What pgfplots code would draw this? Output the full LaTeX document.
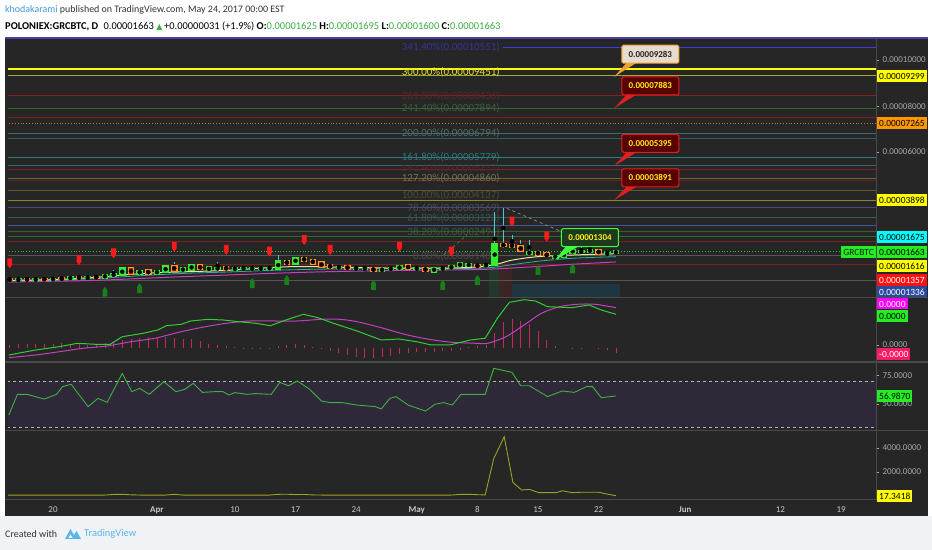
\documentclass[border=0pt]{standalone}
\usepackage{pgfplots}
\usepackage{pgfplotstable}
\pgfplotsset{compat=1.18}
\usepackage{fontspec}
\setmainfont{Carlito}
\newfontfamily\symfont{DejaVu Sans}

\definecolor{bgc}{HTML}{262626}
\definecolor{sepc}{HTML}{4A4A4A}
\definecolor{topc}{HTML}{4B3FA0}
\definecolor{tickc}{HTML}{A8A8A8}
\definecolor{datec}{HTML}{C8C8C8}
\definecolor{footc}{HTML}{F0F3F5}
\definecolor{hdrc}{HTML}{333333}
\definecolor{tvblue}{HTML}{3D9BD6}
\definecolor{tvlogo}{HTML}{5AB5E8}
\definecolor{hdrgreen}{HTML}{3CB043}
\definecolor{upc}{HTML}{2EF02E}
\definecolor{dnout}{HTML}{FF9A20}
\definecolor{dnin}{HTML}{E02020}
\definecolor{callr}{HTML}{E02020}
\definecolor{wickc}{HTML}{5CC4D0}
\definecolor{fracred}{HTML}{FF1A1A}
\definecolor{fracgreen}{HTML}{1A7F1A}
\definecolor{macdc}{HTML}{33CC33}
\definecolor{sigc}{HTML}{C040C0}
\definecolor{histc}{HTML}{C8285A}
\definecolor{rsic}{HTML}{3CB43C}
\definecolor{bandc}{HTML}{2E2839}
\definecolor{volc}{HTML}{A0A020}
\definecolor{ma1}{HTML}{E6E6A0}
\definecolor{ma2}{HTML}{30B0A0}
\definecolor{ma3}{HTML}{C040C0}
% colours named after their hex value
\def\dc#1{\definecolor{HTML#1}{HTML}{#1}}
\dc{1E3A48}\dc{3A3AE0}\dc{FFFF30}\dc{F0F020}\dc{A0A020}\dc{8A2020}\dc{2A6A2A}
\dc{7A2020}\dc{C08020}\dc{3A6A6A}\dc{2A6060}\dc{2A8080}\dc{2A6A6A}\dc{6A6A30}
\dc{6A2020}\dc{5A5A2A}\dc{8A8A2A}\dc{4A4A7A}\dc{3A5A9A}\dc{3A5A3A}\dc{555555}
\dc{30C030}\dc{34349C}\dc{E0E030}\dc{5A2626}\dc{3E5E3E}\dc{4F6E6E}\dc{2F7878}
\dc{552828}\dc{6F6F55}\dc{4C4C32}\dc{4A4A5C}\dc{3A5252}\dc{4A4A4A}\dc{909090}
\dc{707070}\dc{F0A030}\dc{E6DCCD}\dc{222222}\dc{40FF40}\dc{1E3A1E}\dc{B8B8B8}
\dc{FFFF00}\dc{FF9800}\dc{00FFFF}\dc{22EE22}\dc{FF1010}\dc{2A4AA0}\dc{1A1A1A}
\dc{FF00FF}\dc{FF1A66}\dc{3A2424}\dc{A8A830}\dc{22382A}

\pgfdeclareplotmark{dnarr}{%
  \pgfpathmoveto{\pgfqpoint{-2.4bp}{5bp}}%
  \pgfpathlineto{\pgfqpoint{2.4bp}{5bp}}%
  \pgfpathlineto{\pgfqpoint{2.4bp}{-1.5bp}}%
  \pgfpathlineto{\pgfqpoint{0bp}{-5bp}}%
  \pgfpathlineto{\pgfqpoint{-2.4bp}{-1.5bp}}%
  \pgfpathclose\pgfusepathqfill}
\pgfdeclareplotmark{uparr}{%
  \pgfpathmoveto{\pgfqpoint{-2.4bp}{-5bp}}%
  \pgfpathlineto{\pgfqpoint{2.4bp}{-5bp}}%
  \pgfpathlineto{\pgfqpoint{2.4bp}{1.5bp}}%
  \pgfpathlineto{\pgfqpoint{0bp}{5bp}}%
  \pgfpathlineto{\pgfqpoint{-2.4bp}{1.5bp}}%
  \pgfpathclose\pgfusepathqfill}

\pgfplotsset{
  panel/.style={scale only axis, width=868bp, anchor=south west,
    xmin=-5.196, xmax=95.03, axis line style={draw=none},
    xtick=\empty, ytick pos=right, yticklabel pos=right,
    tick align=outside, major tick length=3bp,
    ytick style={color=tickc, line width=0.6bp},
    y tick label style={font=\fontsize{9}{9}\selectfont, text=tickc},
    clip mode=individual},
  candle/.style={only marks, mark=none, error bars/.cd, y dir=both, y explicit, error mark=none},
}
\tikzset{
  fiblbl/.style={anchor=east, inner sep=0pt, font=\fontsize{11}{11}\selectfont},
  callred/.style={draw=callr, fill=red!35!black, text=yellow!90!white, line width=1bp,
    rounded corners=1.5bp, minimum width=57bp, minimum height=18bp, inner sep=1bp,
    font=\bfseries\fontsize{9}{9}\selectfont},
  rlbl/.style={anchor=west, inner xsep=2bp, inner ysep=0pt, minimum height=12bp,
    font=\fontsize{9.5}{9.5}\selectfont},
}
\newcommand{\lvl}[2]{\addplot[#1] coordinates {(-6,#2) (96,#2)};}

% candles, price in units of 1e-5 BTC, day 0 = Mar 20
\pgfplotstableread{
d o h l c
-4 0.44 0.47 0.42 0.46
-2 0.45 0.48 0.43 0.47
0 0.46 0.50 0.44 0.48
2 0.50 0.56 0.48 0.54
4 0.52 0.58 0.50 0.55
6 0.55 0.68 0.53 0.64
7 0.62 0.86 0.60 0.70
8 0.65 0.96 0.63 0.94
10 0.72 0.86 0.70 0.83
12 0.72 0.86 0.70 0.83
13 0.80 1.06 0.78 1.01
15 0.84 0.98 0.82 0.94
16 0.87 1.12 0.85 1.09
18 0.87 1.00 0.85 0.97
19 0.93 1.23 0.88 0.95
21 0.90 0.97 0.88 0.94
22 0.93 0.98 0.90 0.95
23 0.93 0.97 0.91 0.94
24 0.93 0.98 0.90 0.95
25 0.94 1.00 0.92 0.96
26 0.94 1.52 0.92 1.23
28 1.16 1.45 1.14 1.38
33 0.98 1.04 0.96 1.00
35 0.93 0.98 0.91 0.95
36 0.93 0.97 0.90 0.94
38 0.84 0.94 0.82 0.91
39 0.91 0.97 0.89 0.94
40 0.94 1.05 0.92 1.01
42 0.92 1.00 0.88 0.95
44 0.82 0.96 0.80 0.94
45 0.93 0.98 0.91 0.95
46 0.97 1.05 0.95 1.01
47 1.04 1.20 1.02 1.16
48 1.08 1.14 1.06 1.10
50 1.07 1.12 1.05 1.09
51 1.09 3.40 1.05 1.99
55 1.60 2.17 1.55 1.63
58 1.42 1.50 1.30 1.46
59 1.46 1.62 1.44 1.59
60 1.62 1.78 1.58 1.74
61 1.66 1.85 1.62 1.68
62 1.68 1.96 1.64 1.74
64 1.56 1.66 1.54 1.60
65 1.625 1.695 1.600 1.663
}\upcandles
\pgfplotstableread{
d o h l c
-5 0.47 0.50 0.42 0.44
-3 0.47 0.49 0.44 0.45
-1 0.48 0.50 0.45 0.46
1 0.50 0.53 0.48 0.49
3 0.56 0.58 0.51 0.52
5 0.57 0.60 0.53 0.55
9 0.92 0.98 0.70 0.72
11 0.84 0.88 0.70 0.72
14 1.04 1.23 0.82 0.84
17 1.06 1.12 0.89 0.91
20 0.99 1.03 0.88 0.90
27 1.23 1.30 1.14 1.16
29 1.38 1.42 1.26 1.28
30 1.30 1.34 1.14 1.16
31 1.19 1.22 0.99 1.01
32 1.09 1.12 0.95 0.97
34 1.01 1.04 0.92 0.94
37 0.94 0.97 0.82 0.84
41 1.06 1.10 0.92 0.94
43 0.94 0.98 0.82 0.84
49 1.09 1.12 0.99 1.01
52 1.99 3.57 1.83 1.92
53 1.96 2.39 1.85 1.90
54 1.91 2.17 1.66 1.70
56 1.65 1.72 1.52 1.55
57 1.58 1.62 1.45 1.48
63 1.74 1.80 1.55 1.57
}\dncandles

\pgfplotstableread{
d v
-5 3
-4 3.5
-3 3.5
-2 4
-1 4
0 4
1 4.5
2 4
3 3.5
4 3
5 3.5
6 4.5
7 6
8 7.5
9 8.5
10 9.5
11 10.5
12 11
13 10.5
14 9.5
15 9
16 8.5
17 7
18 4
19 3
20 2
21 0.5
22 -1
23 -1.5
24 -1.5
25 -1
26 1.5
27 3
28 4
29 3
30 1
31 -1
32 -3
33 -5
34 -7.5
35 -9.5
36 -10.5
37 -10.5
38 -9.5
39 -8
40 -6.5
41 -5
42 -4.5
43 -4
44 -4
45 -3.5
46 -3
47 -2
48 1
49 2
50 3
51 15
52 26
53 29
54 27
55 24
56 17
57 8
58 2
60 -1
61 -1
63 -1.5
64 -2
65 -5
}\hist

\begin{document}
\begin{tikzpicture}[x=1bp,y=1bp]
\useasboundingbox (0,0) rectangle (932,550);
\fill[white] (0,0) rectangle (932,550);
\fill[footc] (0,0) rectangle (932,34);
\fill[bgc] (5,34) rectangle (928,512);

% header
\node[anchor=west, inner sep=0pt, font=\fontsize{10}{12}\selectfont, text=hdrc] at (5,540)
  {\textcolor{tvblue}{khodakarami} published on TradingView.com, May 24, 2017 00:00 EST};
\node[anchor=west, inner sep=0pt, font=\fontsize{10.5}{12}\selectfont, text=black] at (5,524)
  {\textbf{POLONIEX:GRCBTC, D}\enspace 0.00001663 {\color{hdrgreen}\symfont\fontsize{8}{8}\selectfont ▲}\,+0.00000031 (+1.9\%) \textbf{O:}\textcolor{hdrgreen}{0.00001625} \textbf{H:}\textcolor{hdrgreen}{0.00001695} \textbf{L:}\textcolor{hdrgreen}{0.00001600} \textbf{C:}\textcolor{hdrgreen}{0.00001663}};

% ---------- main price panel ----------
\begin{axis}[panel, at={(8bp,253bp)}, height=259bp, ymin=-0.304, ymax=10.957,
  ytick={6,8,10}, yticklabels={0.00006000,0.00008000,0.00010000}]
\addplot[fill=HTML1E3A48, draw=none, fill opacity=0.8] coordinates {(52.5,-0.4) (65.5,-0.4) (65.5,0.25) (52.5,0.25)} -- cycle;
\addplot[fill=HTML22382A, draw=none] coordinates {(50.4,-0.4) (51.5,-0.4) (51.5,1.1) (50.4,1.1)} -- cycle;
\addplot[fill=HTML3A2424, draw=none] coordinates {(51.5,-0.4) (53,-0.4) (53,1.1) (51.5,1.1)} -- cycle;
% levels
\addplot[color=HTML3A3AE0, line width=1.4bp] coordinates {(52,10.551) (96,10.551)};
\lvl{color=HTMLFFFF00, line width=2bp}{9.62}
\lvl{color=HTMLA8A830, line width=0.8bp}{9.33}
\lvl{color=HTML8A2020, line width=0.8bp}{8.44}
\lvl{color=HTML2A6A2A, line width=1bp}{7.87}
\lvl{color=HTML7A2020, line width=0.8bp}{7.49}
\lvl{color=HTMLC08020, line width=0.8bp, dotted}{7.265}
\lvl{color=HTML3A6A6A, line width=0.8bp}{6.794}
\lvl{color=HTML2A6060, line width=0.8bp}{6.57}
\lvl{color=HTML2A8080, line width=0.8bp}{5.779}
\lvl{color=HTML2A6A6A, line width=0.8bp}{5.40}
\lvl{color=HTML7A2020, line width=0.8bp}{5.237}
\lvl{color=HTML6A6A30, line width=0.8bp}{4.86}
\lvl{color=HTML6A2020, line width=0.8bp}{4.75}
\lvl{color=HTML5A5A2A, line width=0.8bp}{4.32}
\lvl{color=HTML8A8A2A, line width=0.8bp}{3.898}
\lvl{color=HTML4A4A7A, line width=0.8bp}{3.57}
\lvl{color=HTML2A6060, line width=0.8bp}{3.15}
\lvl{color=HTML3A5A9A, line width=0.8bp}{2.83}
\lvl{color=HTML3A5A3A, line width=0.8bp}{2.53}
\lvl{color=HTML2A6A2A, line width=0.8bp}{2.32}
\lvl{color=HTML7A2020, line width=0.8bp}{2.10}
\lvl{color=HTML555555, line width=0.8bp}{1.49}
\lvl{color=HTML7A2020, line width=0.8bp}{1.13}
\lvl{color=HTML555555, line width=0.8bp}{0.43}
\lvl{color=HTML30C030, line width=0.8bp, dotted}{1.663}
% fib labels
\node[fiblbl, text=HTML34349C] at (axis cs:51.6,10.551) {341.40\%(0.00010551)};
\node[fiblbl, text=HTMLE0E030] at (axis cs:51.6,9.451) {300.00\%(0.00009451)};
\node[fiblbl, text=HTML5A2626] at (axis cs:51.6,8.436) {261.80\%(0.00008436)};
\node[fiblbl, text=HTML3E5E3E] at (axis cs:51.6,7.894) {241.40\%(0.00007894)};
\node[fiblbl, text=HTML4F6E6E] at (axis cs:51.6,6.794) {200.00\%(0.00006794)};
\node[fiblbl, text=HTML2F7878] at (axis cs:51.6,5.779) {161.80\%(0.00005779)};
\node[fiblbl, text=HTML552828] at (axis cs:51.6,5.30) {141.40\%(0.00005237)};
\node[fiblbl, text=HTML6F6F55] at (axis cs:51.6,4.860) {127.20\%(0.00004860)};
\node[fiblbl, text=HTML4C4C32] at (axis cs:51.6,4.137) {100.00\%(0.00004137)};
\node[fiblbl, text=HTML4A4A5C] at (axis cs:51.6,3.569) {78.60\%(0.00003569)};
\node[fiblbl, text=HTML3A5252] at (axis cs:51.6,3.123) {61.80\%(0.00003123)};
\node[fiblbl, text=HTML3A5A3A] at (axis cs:51.6,2.494) {38.20\%(0.00002494)};
\node[fiblbl, text=HTML4A4A4A] at (axis cs:51.6,1.480) {0.00\%(0.00001480)};
% trend lines
\addplot[color=HTML909090, dashed, line width=0.7bp] coordinates {(52.4,3.55) (58.7,2.54)};
\addplot[color=HTML707070, dashed, line width=0.6bp] coordinates {(45.1,1.52) (47.8,2.39)};
% moving averages
\addplot[color=ma3, line width=1bp, smooth] coordinates {(-5.2,0.35) (0,0.38) (5,0.42) (10,0.50) (15,0.58) (20,0.65) (25,0.72) (30,0.78) (35,0.82) (40,0.85) (45,0.87) (50,0.90) (55,1.00) (60,1.12) (65,1.22)};
\addplot[color=ma2, line width=0.8bp, smooth] coordinates {(-5.2,0.40) (0,0.42) (5,0.50) (10,0.62) (15,0.72) (20,0.78) (25,0.85) (30,0.90) (35,0.92) (40,0.92) (45,0.93) (50,0.96) (53,1.10) (56,1.25) (60,1.38) (65,1.45)};
\addplot[color=ma1, line width=1bp, smooth] coordinates {(-5.2,0.42) (0,0.45) (5,0.55) (8,0.65) (12,0.75) (16,0.80) (20,0.85) (24,0.95) (28,1.02) (32,1.00) (36,0.97) (40,0.95) (44,0.95) (48,0.98) (51,1.10) (53,1.30) (56,1.45) (60,1.52) (65,1.58)};
% wicks
\addplot[candle, error bar style={color=wickc, line width=0.8bp}]
  table[x=d, y expr={(\thisrow{h}+\thisrow{l})/2}, y error expr={(\thisrow{h}-\thisrow{l})/2}] \upcandles;
\addplot[candle, error bar style={color=wickc, line width=0.8bp}]
  table[x=d, y expr={(\thisrow{h}+\thisrow{l})/2}, y error expr={(\thisrow{h}-\thisrow{l})/2}] \dncandles;
% bodies
\addplot[candle, error bar style={color=upc, line width=6.5bp}]
  table[x=d, y expr={(\thisrow{o}+\thisrow{c})/2}, y error expr={abs(\thisrow{c}-\thisrow{o})/2+0.06}] \upcandles;
\addplot[candle, error bar style={color=dnout, line width=6.5bp}]
  table[x=d, y expr={(\thisrow{o}+\thisrow{c})/2}, y error expr={abs(\thisrow{c}-\thisrow{o})/2+0.06}] \dncandles;
\addplot[candle, error bar style={color=dnin, line width=4bp}]
  table[x=d, y expr={(\thisrow{o}+\thisrow{c})/2}, y error expr={abs(\thisrow{c}-\thisrow{o})/2+0.015}] \dncandles;
% fractal arrows
\addplot[only marks, mark=dnarr, color=fracred] coordinates {(-5,1.16) (3,1.30) (7,1.59) (14,1.88) (20,1.74) (25,1.67) (29,2.17) (32,1.74) (40,1.88) (46,1.67) (53,2.97) (57,2.32)};
\addplot[only marks, mark=uparr, color=fracgreen] coordinates {(6,-0.07) (10,0.08) (23,0.30) (27,0.43) (37,0.22) (45,0.22) (49,0.43) (56,0.87) (60,0.94)};
% callouts
\fill[HTMLF0A030] (axis cs:66.2,9.86) -- (axis cs:67.3,9.86) -- (axis cs:64.8,9.27) -- cycle;
\node[draw=HTMLF0A030, fill=HTMLE6DCCD, text=HTML222222, line width=1bp, rounded corners=1.5bp,
  minimum width=57bp, minimum height=18bp, inner sep=1bp, font=\bfseries\fontsize{9}{9}\selectfont]
  at (axis cs:68.97,10.25) {0.00009283};
\fill[callr] (axis cs:66.2,8.48) -- (axis cs:67.3,8.48) -- (axis cs:64.8,7.90) -- cycle;
\node[callred] at (axis cs:68.97,8.88) {0.00007883};
\fill[callr] (axis cs:66.2,5.97) -- (axis cs:67.3,5.97) -- (axis cs:64.8,5.39) -- cycle;
\node[callred] at (axis cs:68.97,6.38) {0.00005395};
\fill[callr] (axis cs:66.2,4.47) -- (axis cs:67.3,4.47) -- (axis cs:64.8,3.91) -- cycle;
\node[callred] at (axis cs:68.97,4.88) {0.00003891};
\fill[HTML40FF40] (axis cs:59.2,1.88) -- (axis cs:60.6,1.88) -- (axis cs:57.97,1.30) -- cycle;
\node[draw=HTML40FF40, fill=HTML1E3A1E, text=yellow!90!white, line width=1bp, rounded corners=1.5bp,
  minimum width=57bp, minimum height=18bp, inner sep=1bp, font=\bfseries\fontsize{9}{9}\selectfont]
  at (axis cs:62.0,2.28) {0.00001304};
\end{axis}

% ---------- MACD panel ----------
\begin{axis}[panel, at={(8bp,189bp)}, height=63bp, ymin=-13.3, ymax=49.7,
  ytick={2.7}, yticklabels={0.0000}]
\addplot[ycomb, color=histc, line width=0.8bp, mark=none] table[x=d, y=v] \hist;
\addplot[color=sigc, line width=1bp, smooth] coordinates {(-5.1,-10.0) (-2.0,-7.3) (0.75,-4.0) (3.5,-0.6) (6.25,1.7) (9.0,6.0) (11.75,9.4) (14.5,15.4) (17.25,20.4) (20.0,24.4) (22.75,26.7) (25.5,26.7) (28.2,26.7) (31.0,28.4) (33.1,28.4) (35.1,26.0) (37.9,20.0) (40.6,13.4) (43.4,8.4) (46.1,5.4) (48.9,4.4) (50.2,4.4) (52.3,11.0) (54.4,22.7) (56.4,34.4) (58.5,41.0) (60.5,43.4) (62.6,43.4) (65.0,40.0)};
\addplot[color=macdc, line width=1bp] coordinates {(-5.1,-7.3) (-2.0,-2.3) (0.75,1.0) (2.8,4.4) (4.9,3.4) (6.6,3.4) (8.0,11.0) (10.4,14.4) (12.1,17.7) (13.1,22.0) (14.8,23.4) (15.9,26.7) (17.9,28.4) (19.65,27.7) (21.4,26.0) (23.4,24.4) (25.1,22.0) (26.9,27.7) (28.9,33.4) (30.6,30.0) (32.4,24.4) (35.1,16.7) (37.9,7.7) (39.9,8.7) (42.0,6.0) (43.7,2.7) (45.8,2.7) (48.2,7.7) (49.9,9.4) (51.3,29.4) (52.7,45.4) (54.4,48.0) (55.7,46.7) (57.1,41.0) (59.9,40.0) (61.9,42.7) (63.3,37.7) (65.0,33.4)};
\end{axis}

% ---------- RSI panel ----------
\begin{axis}[panel, at={(8bp,120bp)}, height=67bp, ymin=27.4, ymax=85.65,
  ytick={50,75}, yticklabels={50.0000,75.0000}]
\addplot[fill=bandc, draw=none] coordinates {(-6,30) (96,30) (96,70) (-6,70)} -- cycle;
\addplot[color=HTMLB8B8B8, line width=0.8bp, dash pattern=on 3bp off 3bp] coordinates {(-6,70) (96,70)};
\addplot[color=HTMLB8B8B8, line width=0.8bp, dash pattern=on 3bp off 3bp] coordinates {(-6,30) (96,30)};
\addplot[color=rsic, line width=0.9bp] coordinates {(-5.1,40.4) (-4.1,58.4) (-3.0,58.4) (-1.0,54.3) (0.4,58.4) (1.1,65.1) (2.1,67.1) (4.05,47.7) (5.2,54.9) (6.25,51.4) (8.0,76.6) (9.1,60.7) (10.0,63.6) (11.1,58.4) (12.8,69.4) (14.2,60.7) (15.2,62.7) (16.2,68.0) (17.25,60.1) (18.6,60.7) (19.65,60.7) (20.3,57.8) (21.0,59.9) (22.4,58.4) (23.4,59.0) (25.2,58.4) (26.2,68.8) (27.2,65.9) (28.2,70.0) (29.6,63.0) (31.0,52.6) (32.0,51.2) (33.4,51.2) (35.1,49.1) (37.2,47.7) (37.9,45.7) (38.9,54.9) (39.6,56.4) (41.0,49.1) (43.0,43.9) (44.1,49.7) (45.1,51.2) (46.1,49.1) (47.1,58.4) (49.9,58.4) (50.9,81.0) (53.0,77.5) (54.0,65.9) (55.0,65.9) (57.1,56.4) (58.8,61.3) (60.2,60.1) (61.6,65.1) (62.3,65.1) (63.3,55.5) (65.0,56.99)};
\end{axis}

% ---------- bottom oscillator panel ----------
\begin{axis}[panel, at={(8bp,50bp)}, height=69bp, ymin=-342, ymax=5408,
  ytick={2000,4000}, yticklabels={2000.0000,4000.0000},
  xtick={0,12,21,28,35,42,49,56,63,73,84,91},
  xticklabels={20,\textbf{Apr},10,17,24,\textbf{May},8,15,22,\textbf{Jun},12,19},
  xtick style={draw=none},
  x tick label style={font=\fontsize{9}{9}\selectfont, text=datec}]
\addplot[color=volc, line width=0.9bp] coordinates {(-5.2,70) (6,70) (7,120) (8,130) (9,90) (10,70) (13,70) (14,130) (15,70) (25,70) (26,130) (27,140) (28,110) (29,120) (30,80) (31,70) (46,70) (47,120) (48,130) (49,100) (49.9,80) (50.9,3130) (52.1,4930) (53.1,1130) (54.1,490) (55,540) (56.1,270) (58.1,270) (58.8,430) (59.9,270) (60.9,300) (63,300) (64,150) (65,17.34)};
\end{axis}

% separators and axes lines
\draw[sepc, line width=1.5bp] (5,252.5) -- (928,252.5);
\draw[sepc, line width=1.5bp] (5,188) -- (928,188);
\draw[sepc, line width=1.5bp] (5,119.5) -- (928,119.5);
\draw[sepc, line width=1bp] (5,50) -- (876,50);
\draw[sepc, line width=1bp] (876,50) -- (876,512);
\draw[topc, line width=2bp] (5,512) -- (928,512);

% right-hand value labels
\node[rlbl, fill=HTMLFFFF00, text=black] at (877,474) {0.00009299};
\node[rlbl, fill=HTMLFF9800, text=black] at (877,427) {0.00007265};
\node[rlbl, fill=HTMLFFFF00, text=black] at (877,350) {0.00003898};
\node[rlbl, fill=HTML00FFFF, text=black] at (877,313) {0.00001675};
\node[rlbl, fill=HTML22EE22, text=black] at (877,298) {0.00001663};
\node[rlbl, fill=HTMLFFFF00, text=black] at (877,284) {0.00001616};
\node[rlbl, fill=HTMLFF1010, text=white] at (877,269.5) {0.00001357};
\begin{scope}
\clip (876,253.5) rectangle (932,512);
\node[rlbl, fill=HTML2A4AA0, text=white] at (877,258) {0.00001336};
\end{scope}
\node[anchor=east, inner xsep=2bp, inner ysep=0pt, minimum height=12bp, fill=HTML22EE22, text=HTML1A1A1A,
  font=\fontsize{9.5}{9.5}\selectfont] at (876,298) {GRCBTC};
\node[rlbl, fill=HTMLFF00FF, text=white, minimum height=11bp] at (877,246) {0.0000};
\node[rlbl, fill=HTML22EE22, text=black] at (877,234) {0.0000};
\node[rlbl, fill=HTMLFF1A66, text=white] at (877,196) {-0.0000};
\node[rlbl, fill=HTML22EE22, text=black] at (877,154) {56.9870};
\node[rlbl, fill=HTMLFFFF00, text=black] at (877,54) {17.3418};

% footer
\node[anchor=west, inner sep=0pt, font=\fontsize{10}{12}\selectfont, text=hdrc] at (5,16) {Created with};
\fill[tvlogo] (65,11) -- (70.5,21) -- (74,15) -- (76.5,19) -- (81,11) -- cycle;
\fill[footc] (70.5,15.5) -- (72.5,12) -- (68.5,12) -- cycle;
\node[anchor=west, inner sep=0pt, font=\fontsize{10.5}{12}\selectfont, text=tvlogo] at (84,16) {TradingView};
\end{tikzpicture}
\end{document}
